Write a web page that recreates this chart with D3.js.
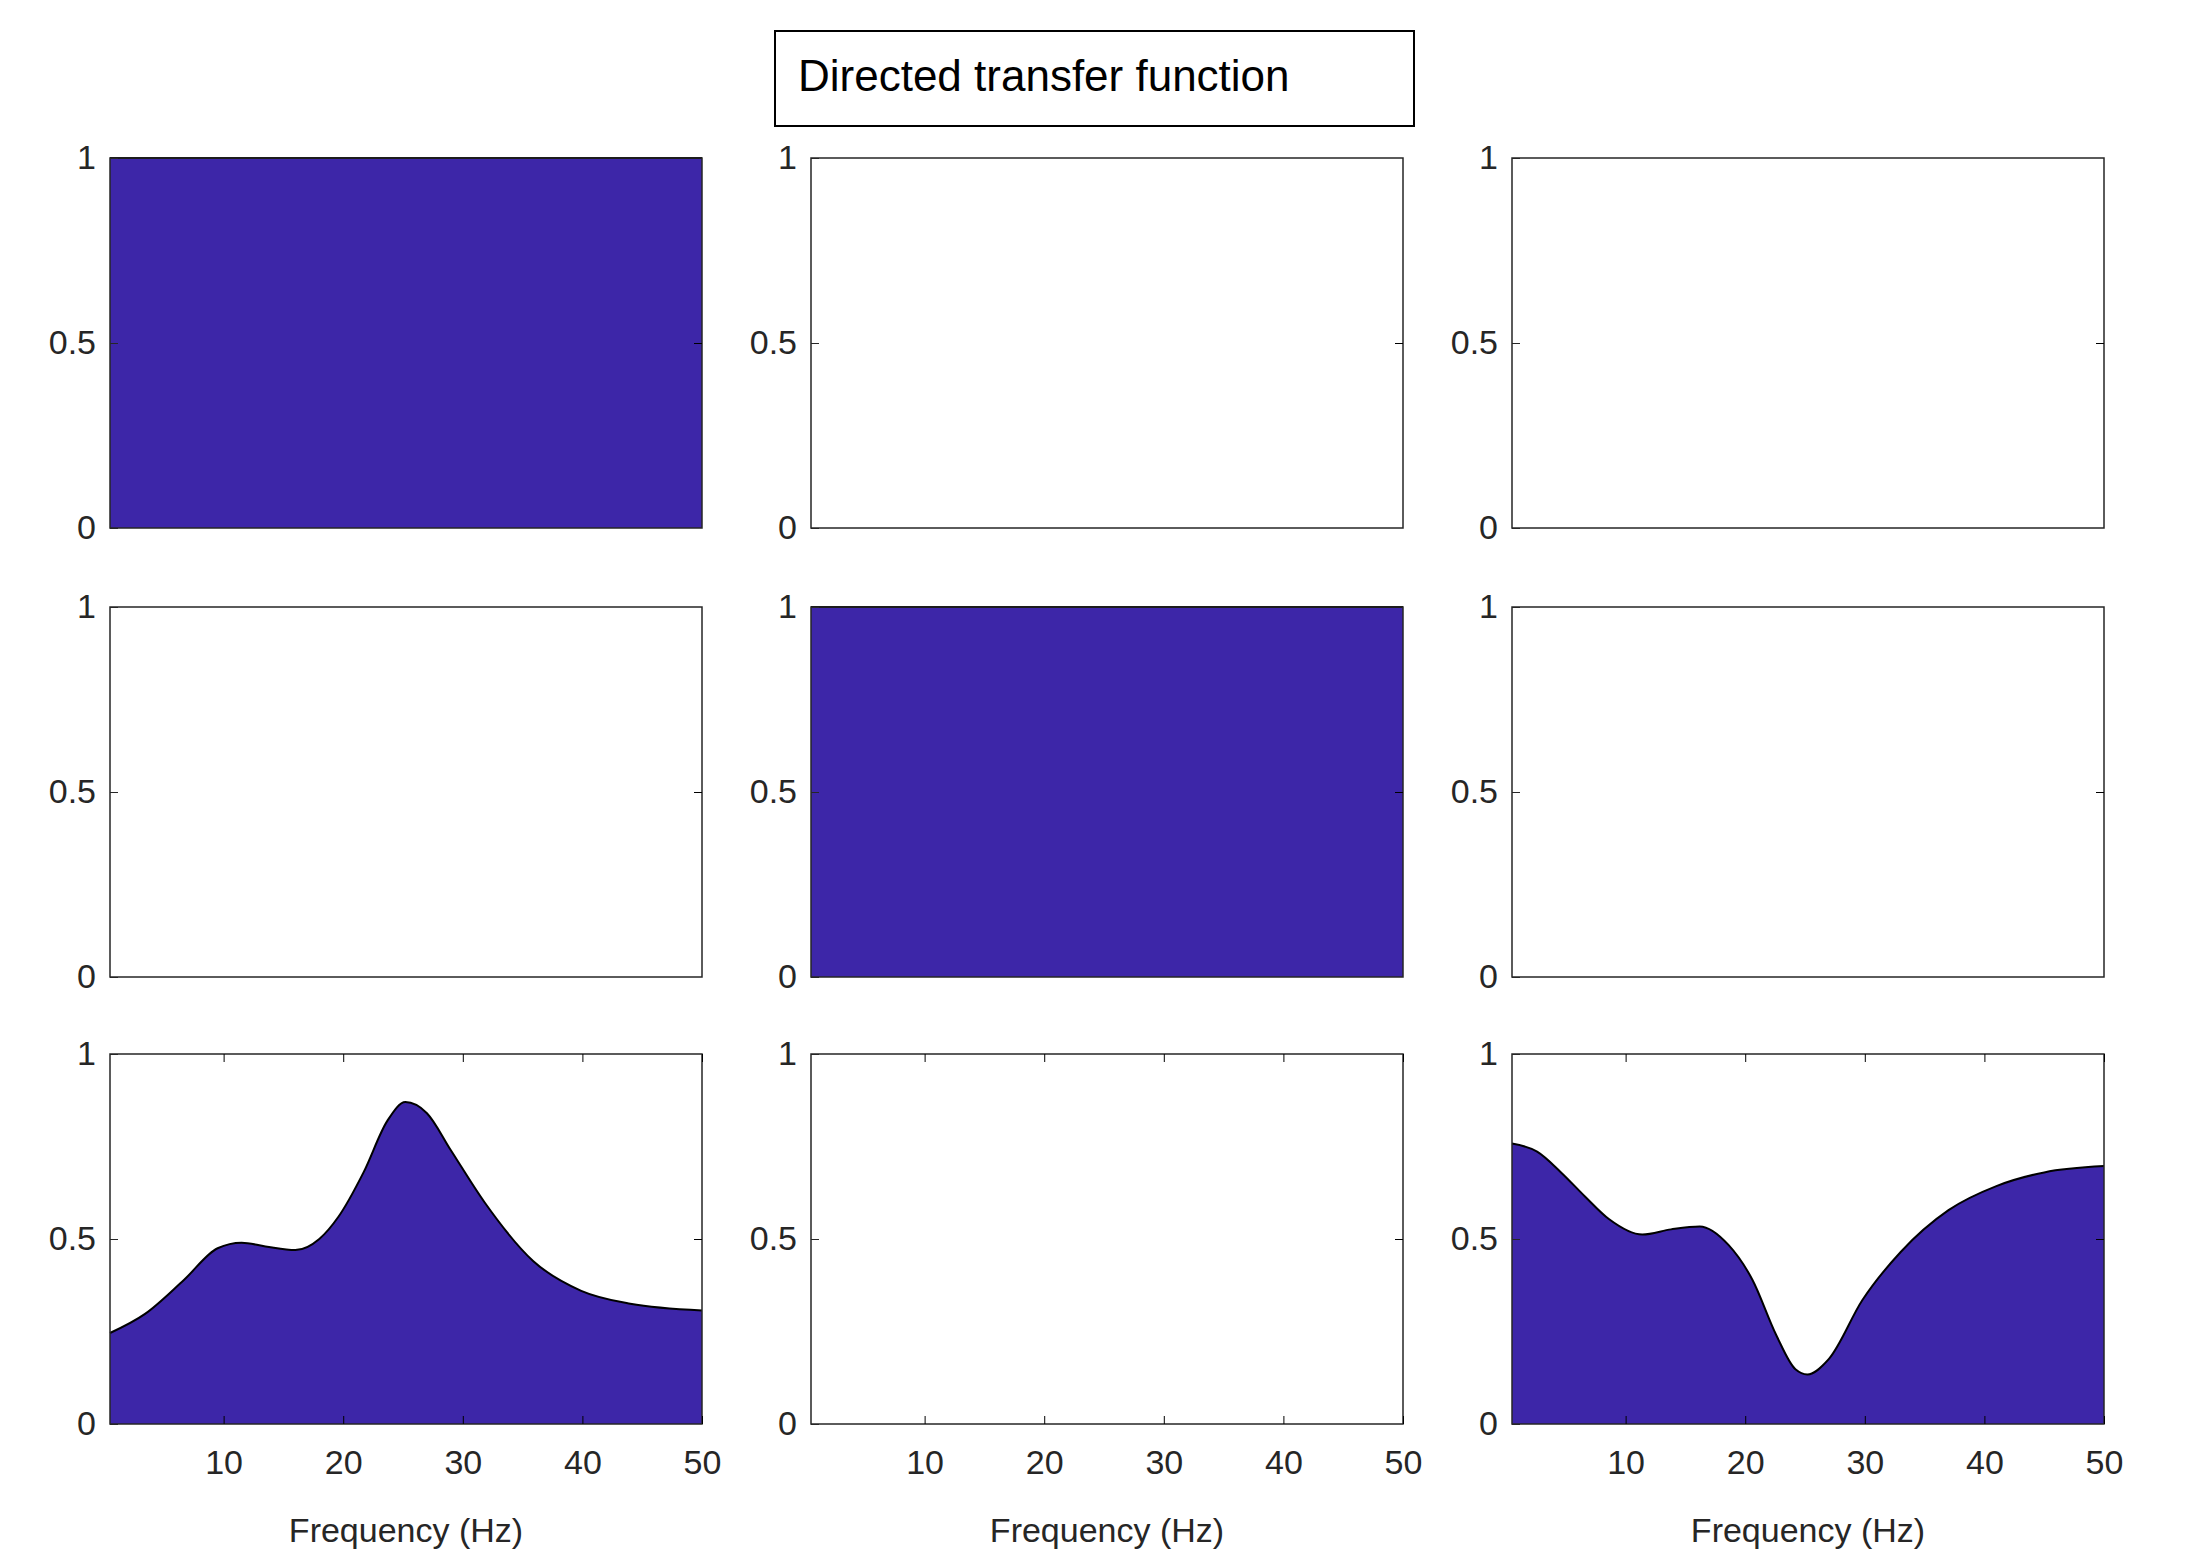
<!DOCTYPE html>
<html><head><meta charset="utf-8">
<script src="https://cdn.jsdelivr.net/npm/d3@7"></script>
<style>body{margin:0;background:#fff}svg{display:block}text{font-family:"Liberation Sans",Arial,sans-serif;fill:#262626}</style>
</head><body><svg id="chart"></svg>
<script>
// frequency grid (Hz) and DTF values
var freqA = [0.5, 3.4, 6.7, 9.5, 11.5, 13.5, 16, 18, 19.6, 21.7, 23.7, 25.2, 27, 29, 31.8, 35.9, 39.9, 44, 50];
var dtf31 = [0.246, 0.297, 0.39, 0.475, 0.49, 0.48, 0.47, 0.5, 0.56, 0.68, 0.82, 0.87, 0.84, 0.74, 0.6, 0.44, 0.36, 0.325, 0.307];
var freqB = [0.5, 2.6, 4.6, 6.6, 8.6, 11.4, 13.8, 16.2, 18.6, 20.6, 22.6, 24.2, 25.2, 27, 29.8, 33, 37, 41, 45, 50];
var dtf33 = [0.758, 0.736, 0.68, 0.615, 0.554, 0.512, 0.526, 0.534, 0.484, 0.39, 0.24, 0.148, 0.134, 0.176, 0.335, 0.465, 0.578, 0.643, 0.68, 0.697];
var freqFull = [0.5, 50];
var ones = [1, 1];
var xTicks = [10, 20, 30, 40, 50];
var yTicks = [0, 0.5, 1];

// 3x3 grid; null = empty panel
var panels = [
  [freqFull, ones], null, null,
  null, [freqFull, ones], null,
  [freqA, dtf31], null, [freqB, dtf33]
];

var W = 2187, H = 1563;
var colX = [110, 811, 1512], rowY = [158, 607, 1054];
var pw = 592, ph = 370;
var svg = d3.select("#chart").attr("width", W).attr("height", H);

// title box
svg.append("rect").attr("x", 775).attr("y", 31).attr("width", 639).attr("height", 95)
  .attr("fill", "#fff").attr("stroke", "#000").attr("stroke-width", 2);
svg.append("text").attr("x", 798).attr("y", 91).attr("font-size", 44).style("fill", "#000")
  .text("Directed transfer function");

var x = d3.scaleLinear().domain([0.5, 50]).range([0, pw]);
var y = d3.scaleLinear().domain([0, 1]).range([ph, 0]);
var area = d3.area().x(function(d) { return x(d[0]); }).y0(ph).y1(function(d) { return y(d[1]); })
  .curve(d3.curveMonotoneX);
var line = d3.line().x(function(d) { return x(d[0]); }).y(function(d) { return y(d[1]); })
  .curve(d3.curveMonotoneX);

panels.forEach(function(p, i) {
  var r = Math.floor(i / 3), c = i % 3;
  var g = svg.append("g").attr("transform", "translate(" + colX[c] + "," + rowY[r] + ")");
  if (p) {
    var pts = d3.zip(p[0], p[1]);
    g.append("path").datum(pts).attr("d", area).attr("fill", "#3D26A8");
    g.append("path").datum(pts).attr("d", line).attr("fill", "none").attr("stroke", "#000").attr("stroke-width", 2);
  }
  g.append("rect").attr("width", pw).attr("height", ph).attr("fill", "none")
    .attr("stroke", "#262626").attr("stroke-width", 1.5);

  var ya = g.append("g").call(d3.axisLeft(y).tickValues(yTicks).tickSize(-8).tickPadding(14).tickFormat(d3.format("")));
  ya.select(".domain").remove();
  ya.selectAll("text").attr("font-size", 34);
  ya.selectAll("line").attr("stroke", "#262626");
  g.append("g").attr("transform", "translate(" + pw + ",0)")
    .call(d3.axisRight(y).tickValues([0.5]).tickSize(-8).tickFormat(""))
    .select(".domain").remove();

  if (r === 2) {
    var xa = g.append("g").attr("transform", "translate(0," + ph + ")")
      .call(d3.axisBottom(x).tickValues(xTicks).tickSize(-8).tickPadding(26));
    xa.select(".domain").remove();
    xa.selectAll("text").attr("font-size", 34);
    g.append("g").call(d3.axisTop(x).tickValues(xTicks).tickSize(-8).tickFormat(""))
      .select(".domain").remove();
    g.append("text").attr("x", pw / 2).attr("y", ph + 118).attr("text-anchor", "middle")
      .attr("font-size", 34).text("Frequency (Hz)");
  }
});
</script></body></html>
